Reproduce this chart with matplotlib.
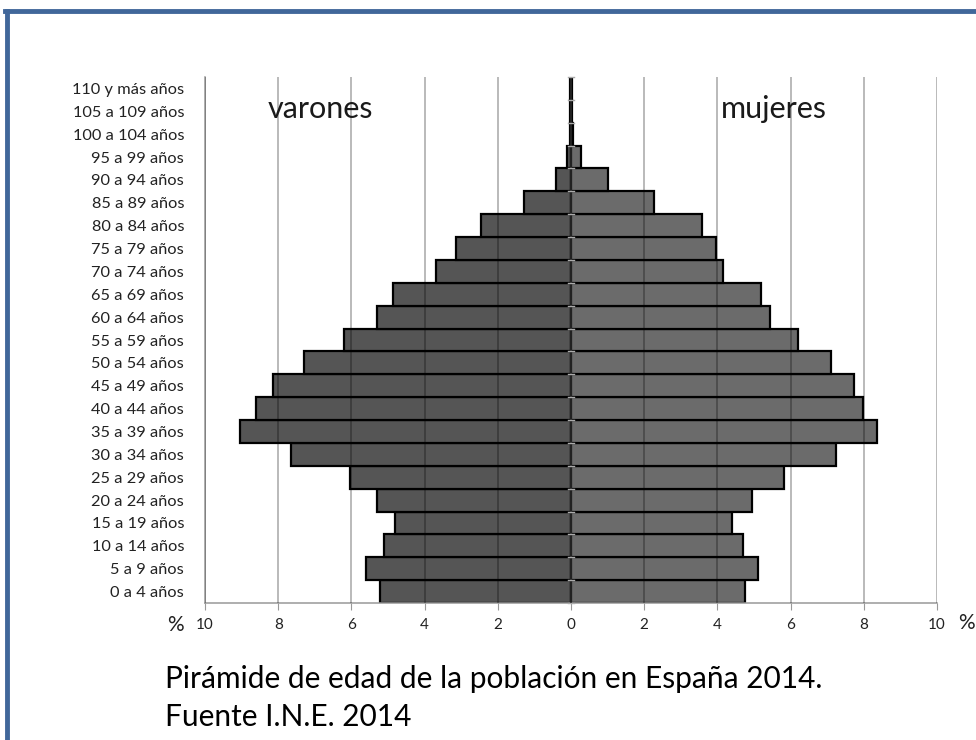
import matplotlib.pyplot as plt
from matplotlib.lines import Line2D
import numpy as np

plt.rcParams['font.family'] = ['Lato', 'DejaVu Sans']

# grupos de edad, de abajo hacia arriba
grupos = ['0 a 4 años', '5 a 9 años', '10 a 14 años', '15 a 19 años', '20 a 24 años',
          '25 a 29 años', '30 a 34 años', '35 a 39 años', '40 a 44 años', '45 a 49 años',
          '50 a 54 años', '55 a 59 años', '60 a 64 años', '65 a 69 años', '70 a 74 años',
          '75 a 79 años', '80 a 84 años', '85 a 89 años', '90 a 94 años', '95 a 99 años',
          '100 a 104 años', '105 a 109 años', '110 y más años']

varones = [5.23, 5.61, 5.12, 4.82, 5.30, 6.05, 7.66, 9.04, 8.62, 8.14,
           7.29, 6.21, 5.31, 4.86, 3.68, 3.14, 2.47, 1.29, 0.42, 0.10,
           0.03, 0.02, 0.02]
mujeres = [4.76, 5.11, 4.69, 4.39, 4.95, 5.81, 7.25, 8.35, 7.98, 7.74,
           7.11, 6.21, 5.44, 5.18, 4.14, 3.97, 3.58, 2.27, 1.02, 0.27,
           0.05, 0.02, 0.02]

ticks = [-10, -8, -6, -4, -2, 0, 2, 4, 6, 8, 10]
tick_labels = ['10', '8', '6', '4', '2', '0', '2', '4', '6', '8', '10']

W, H = 976, 740
fig = plt.figure(figsize=(W / 100, H / 100), dpi=100)
ax = fig.add_axes([205 / W, 1 - 603 / H, (937 - 205) / W, (603 - 77) / H])

y = np.arange(len(grupos))
ax.barh(y, -np.array(varones), height=1.0, color='#555555', edgecolor='black',
        linewidth=1.6, zorder=2)
ax.barh(y, mujeres, height=1.0, color='#6b6b6b', edgecolor='black',
        linewidth=1.6, zorder=2)

# líneas de cuadrícula encima de las barras (se oscurecen sobre el gris)
for t in ticks:
    if t != 0:
        ax.axvline(t, color='black', alpha=0.35, linewidth=1.1, zorder=3)
ax.axvline(0, color='#222222', linewidth=1.4, zorder=4)
# pequeñas marcas del eje de categorías
for b in np.arange(len(grupos) + 1) - 0.5:
    ax.plot([-0.08, 0.08], [b, b], color='#aaaaaa', linewidth=1, zorder=5,
            clip_on=False)

ax.set_xlim(-10, 10)
ax.set_ylim(-0.5, 22.5)
ax.set_xticks(ticks)
ax.set_xticklabels(tick_labels, fontsize=11, color='#222222')
ax.set_yticks(y)
ax.set_yticklabels(grupos, fontsize=11.8, color='#222222')
ax.tick_params(axis='y', length=0, pad=15)
ax.tick_params(axis='x', length=5, color='#999999', pad=6)

for s in ['top', 'right']:
    ax.spines[s].set_visible(False)
ax.spines['left'].set_color('#999999')
ax.spines['bottom'].set_color('#999999')
ax.spines['left'].set_linewidth(1.1)
ax.spines['bottom'].set_linewidth(1.1)

ax.text(-8.3, 21.1, 'varones', fontsize=22, color='#1a1a1a', ha='left', va='center')
ax.text(4.1, 21.1, 'mujeres', fontsize=22, color='#1a1a1a', ha='left', va='center')

fig.text(175 / W, 1 - 625 / H, '%', fontsize=15, color='#222222', ha='center', va='center')
fig.text(966 / W, 1 - 623 / H, '%', fontsize=15, color='#222222', ha='center', va='center')

fig.text(165 / W, 1 - 679 / H, 'Pirámide de edad de la población en España 2014.',
         fontsize=21.5, color='black', ha='left', va='center')
fig.text(165 / W, 1 - 717 / H, 'Fuente I.N.E. 2014',
         fontsize=21.5, color='black', ha='left', va='center')

# marco azul (arriba e izquierda)
fig.add_artist(Line2D([7 / W, 7 / W], [0, 1 - 11 / H], transform=fig.transFigure,
                      color='#41679a', linewidth=3.5))
fig.add_artist(Line2D([5 / W, 1], [1 - 11 / H, 1 - 11 / H], transform=fig.transFigure,
                      color='#41679a', linewidth=3.5))

fig.savefig('out.png', dpi=100)
